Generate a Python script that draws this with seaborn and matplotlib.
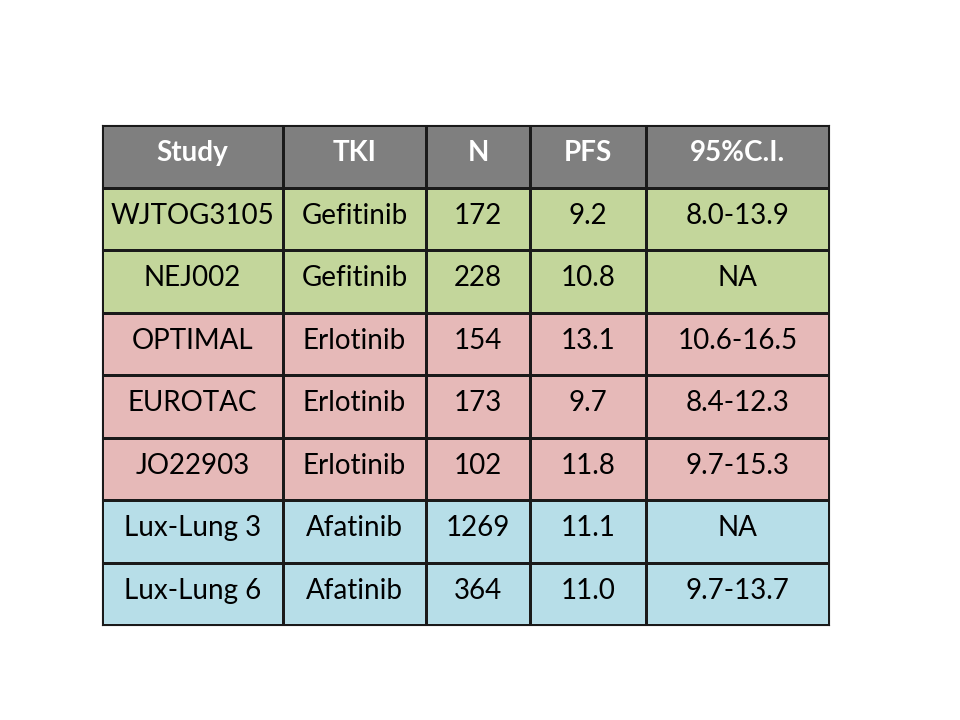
import numpy as np
import pandas as pd
from matplotlib import pyplot as plt
from matplotlib.colors import ListedColormap
import seaborn as sns

# table content
headers = ['Study', 'TKI', 'N', 'PFS', '95%C.I.']
studies = ['WJTOG3105', 'NEJ002', 'OPTIMAL', 'EUROTAC', 'JO22903', 'Lux-Lung 3', 'Lux-Lung 6']
tkis = ['Gefitinib', 'Gefitinib', 'Erlotinib', 'Erlotinib', 'Erlotinib', 'Afatinib', 'Afatinib']
n_pts = [172, 228, 154, 173, 102, 1269, 364]
pfs = [9.2, 10.8, 13.1, 9.7, 11.8, 11.1, 11.0]
ci = ['8.0-13.9', 'NA', '10.6-16.5', '8.4-12.3', '9.7-15.3', 'NA', '9.7-13.7']

tki_order = ['Gefitinib', 'Erlotinib', 'Afatinib']
palette = ['#7f7f7f', '#c3d69b', '#e6b9b8', '#b7dee8']

# column widths in pixels of the original slide
col_edges_px = [0, 181, 324, 428, 544, 727]

cells = [headers] + [[s, t, str(n), f'{p:.1f}', c]
                     for s, t, n, p, c in zip(studies, tkis, n_pts, pfs, ci)]
codes = [[0] * len(headers)] + [[tki_order.index(t) + 1] * len(headers) for t in tkis]
codes_df = pd.DataFrame(codes, columns=headers)

plt.rcParams['font.family'] = ['Lato', 'DejaVu Sans']
fig = plt.figure(figsize=(9.6, 7.2), dpi=100)
ax = fig.add_axes([102 / 960, 95 / 720, 727 / 960, 500 / 720])

sns.heatmap(codes_df, ax=ax, cmap=ListedColormap(palette), vmin=-0.5, vmax=3.5,
            cbar=False, linewidths=0.8, linecolor='#1a1a1a',
            xticklabels=False, yticklabels=False)

# uneven column widths via a piecewise-linear x scale
idx = np.arange(len(col_edges_px))
frac = np.array(col_edges_px) / col_edges_px[-1] * len(headers)
ax.set_xscale('function', functions=(lambda x: np.interp(x, idx, frac),
                                     lambda x: np.interp(x, frac, idx)))
ax.set_xlim(0, len(headers))
ax.set_xticks([])
ax.set_yticks([])
ax.tick_params(which='both', length=0, labelbottom=False, labelleft=False)
ax.xaxis.set_minor_locator(plt.NullLocator())

for i, row in enumerate(cells):
    for j, txt in enumerate(row):
        if i == 0:
            ax.text(j + 0.5, i + 0.45, txt, ha='center', va='center',
                    fontsize=20, color='white', fontweight='bold')
        else:
            ax.text(j + 0.5, i + 0.45, txt, ha='center', va='center',
                    fontsize=20, color='black')

for s in ax.spines.values():
    s.set_visible(True)
    s.set_linewidth(0.8)
    s.set_color('#1a1a1a')
ax.set_xlabel('')
ax.set_ylabel('')

fig.savefig('out.png', dpi=100)
